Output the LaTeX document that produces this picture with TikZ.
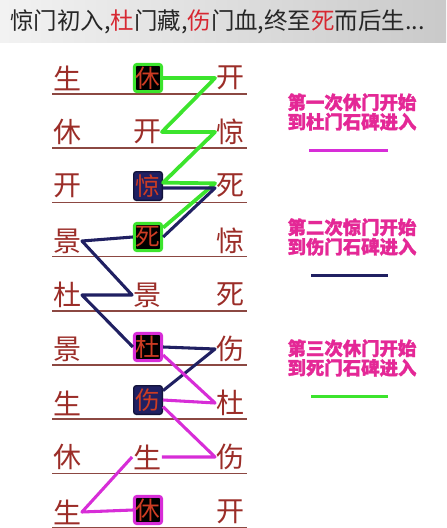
\documentclass[tikz,border=0pt]{standalone}
\usepackage{fontspec}
\newfontfamily\cjk[BoldFeatures={FakeBold=1.6}]{Noto Sans CJK SC}
\usetikzlibrary{positioning}
\definecolor{gateRed}{RGB}{155,45,40}
\definecolor{stoneRed}{RGB}{205,60,35}
\definecolor{ruleRed}{RGB}{140,72,66}
\definecolor{pathGreen}{RGB}{60,228,45}
\definecolor{pathNavy}{RGB}{32,32,98}
\definecolor{pathPink}{RGB}{215,45,215}
\definecolor{noteRose}{RGB}{228,40,150}
\definecolor{titleRed}{RGB}{215,40,50}

\begin{document}
\begin{tikzpicture}[
    x=0.75pt, y=-0.75pt,
    gate/.style={inner sep=0pt, minimum size=22pt, text=gateRed,
                 font=\cjk\fontsize{21}{21}\selectfont},
    stone/.style={gate, draw=#1, fill=black, line width=2.2pt, rounded corners=2pt,
                  minimum size=20.5pt, text=stoneRed, font=\cjk\fontsize{18.5}{18.5}\selectfont},
    stone/.default=pathGreen,
    navybox/.style={stone=pathNavy!60!black, fill=pathNavy, line width=1pt, minimum size=21.5pt},
    trail/.style={draw=#1, line width=2.3pt, line join=round},
    rule/.style={draw=ruleRed, line width=1.1pt},
    note/.style={font=\cjk\bfseries\fontsize{13.8}{14.6}\selectfont, text=noteRose, align=center},
    headline/.style={font=\cjk\fontsize{17.6}{17.6}\selectfont, text=black!85, inner sep=0pt},
  ]
  \useasboundingbox (0,0) rectangle (446,528);

  % Title band
  \shade[left color=gray!10, right color=gray!42] (0,0) rectangle (446,43);
  \node[headline, anchor=west] (title) at (10,22)
    {惊门初入,\textcolor{titleRed}{杜}门藏,\textcolor{titleRed}{伤}门血,终至\textcolor{titleRed}{死}而后生...};

  % Rows of the board
  \foreach \k in {0,...,8}
    \draw[rule] (52,{94+54.2*\k}) -- (247,{94+54.2*\k});

  \node[gate] (l1) at (67,78) {生};
  \node[stone] (m1) at (148,78) {休};
  \node[gate] (r1) at (230,78) {开};

  \node[gate] (l2) at (67,132) {休};
  \node[gate] (m2) at (147,132) {开};
  \node[gate] (r2) at (230,132) {惊};

  \node[gate] (l3) at (67,186) {开};
  \node[navybox] (m3) at (148,186) {惊};
  \node[gate] (r3) at (230,186) {死};

  \node[gate] (l4) at (67,241) {景};
  \node[stone] (m4) at (148,237) {死};
  \node[gate] (r4) at (230,241) {惊};

  \node[gate] (l5) at (67,295) {杜};
  \node[gate] (m5) at (147,295) {景};
  \node[gate] (r5) at (230,295) {死};

  \node[gate] (l6) at (67,349) {景};
  \node[stone=pathPink] (m6) at (148,347) {杜};
  \node[gate] (r6) at (230,349) {伤};

  \node[gate] (l7) at (67,403) {生};
  \node[navybox] (m7) at (148,400) {伤};
  \node[gate] (r7) at (230,403) {杜};

  \node[gate] (l8) at (67,457) {休};
  \node[gate] (m8) at (147,457) {生};
  \node[gate] (r8) at (230,457) {伤};

  \node[gate] (l9) at (67,512) {生};
  \node[stone=pathPink] (m9) at (148,510) {休};
  \node[gate] (r9) at (230,512) {开};

  % First trip (green)
  \draw[trail=pathGreen, line width=2.8pt] (m1.east) -- (r1.west) -- (m2.east) -- (r2.west)
    -- ([yshift=2.5pt]m3.east) -- ([yshift=2pt]r3.west) -- ([yshift=7pt]m4.east);

  % Second trip (navy)
  \draw[trail=pathNavy] ([yshift=-1.5pt]m3.east) -- ([yshift=-1.5pt]r3.west) -- (m4.east);
  \draw[trail=pathNavy] (m4.west) -- (l4.east) -- (m5.west) -- (l5.east) -- (m6.west);
  \draw[trail=pathNavy] (m6.east) -- (r6.west) -- ([yshift=7pt]m7.east);

  % Third trip (pink)
  \draw[trail=pathPink] (m9.west) -- (l9.east) -- (m8.west);
  \draw[trail=pathPink] (m8.east) -- (r8.west) -- ([yshift=-5pt]m7.east);
  \draw[trail=pathPink] (m7.east) -- (r7.west) -- ([yshift=-6pt]m6.east);

  % Notes
  \node[note] (note1) at (352,112) {第一次休门开始\\到杜门石碑进入};
  \node[note] (note2) at (352,237) {第二次惊门开始\\到伤门石碑进入};
  \node[note] (note3) at (352,358) {第三次休门开始\\到死门石碑进入};

  \draw[trail=pathPink] ([shift={(-43,15)}]note1.south) -- ([shift={(36,15)}]note1.south);
  \draw[trail=pathNavy] ([shift={(-41,15)}]note2.south) -- ([shift={(36,15)}]note2.south);
  \draw[trail=pathGreen] ([shift={(-41,15)}]note3.south) -- ([shift={(36,15)}]note3.south);

\end{tikzpicture}
\end{document}
